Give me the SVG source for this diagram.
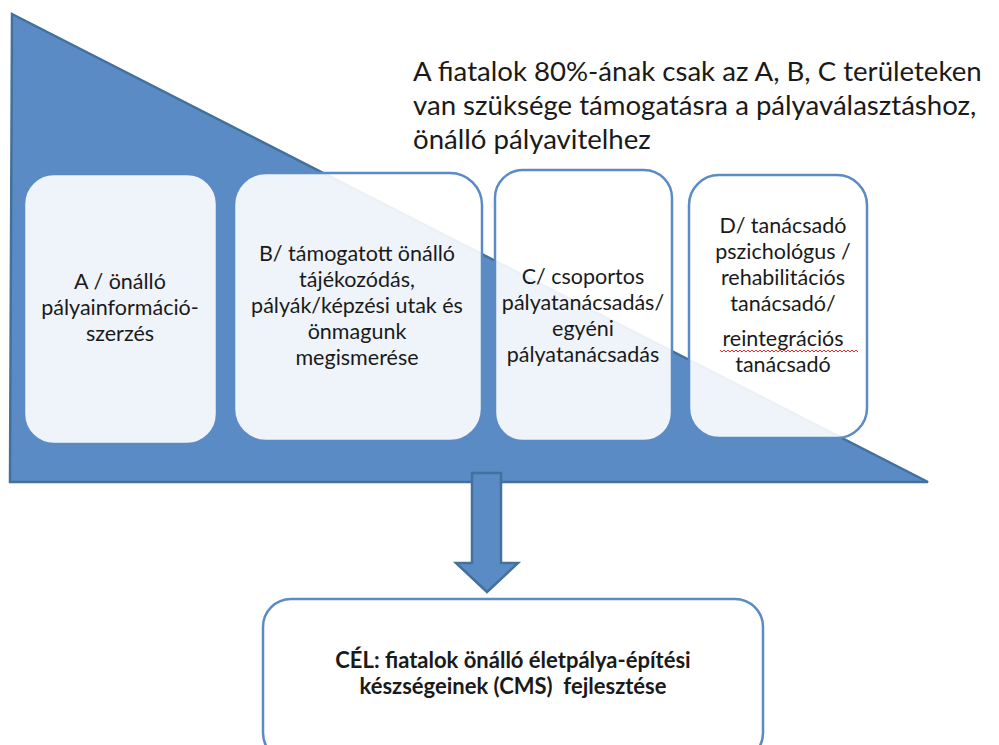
<svg xmlns="http://www.w3.org/2000/svg" width="999" height="745" viewBox="0 0 999 745">
  <style>
    .tri { fill: #5B8BC5; stroke: #41719C; stroke-width: 2.5; stroke-linejoin: miter; }
    .box { fill: #FFFFFF; fill-opacity: 0.9; stroke: #5B8BC5; stroke-width: 2.5; }
    .goal { fill: #FFFFFF; stroke: #5B8BC5; stroke-width: 2.5; }
    .lbl { font-family: "Lato", "Liberation Sans", sans-serif; font-size: 21.5px; fill: #1A1A1A; text-anchor: middle; }
    .note { font-family: "Lato", "Liberation Sans", sans-serif; font-size: 27.6px; fill: #1A1A1A; }
    .bold { font-family: "Lato", "Liberation Sans", sans-serif; font-size: 22px; font-weight: bold; fill: #1A1A1A; text-anchor: middle; white-space: pre; }
    .squiggle { fill: none; stroke: #E03030; stroke-width: 1; }
  </style>

  <rect width="999" height="745" fill="#FFFFFF"/>

  <!-- background wedge -->
  <polygon id="wedge" class="tri" points="12,14 928,482 10,482"/>

  <!-- explanatory note -->
  <g id="note">
    <text class="note" x="413" y="81">A fiatalok 80%-ának csak az A, B, C területeken</text>
    <text class="note" x="413" y="115">van szüksége támogatásra a pályaválasztáshoz,</text>
    <text class="note" x="413" y="149">önálló pályavitelhez</text>
  </g>

  <g id="nodeA">
    <rect class="box" x="24" y="174" width="193" height="270" rx="30"/>
    <text class="lbl" x="120" y="289">A / önálló</text>
    <text class="lbl" x="120" y="315">pályainformáció-</text>
    <text class="lbl" x="120" y="341">szerzés</text>
  </g>

  <g id="nodeB">
    <rect class="box" x="234" y="173" width="248" height="268" rx="32"/>
    <text class="lbl" x="357" y="261">B/ támogatott önálló</text>
    <text class="lbl" x="357" y="287">tájékozódás,</text>
    <text class="lbl" x="357" y="313">pályák/képzési utak és</text>
    <text class="lbl" x="357" y="339">önmagunk</text>
    <text class="lbl" x="357" y="365">megismerése</text>
  </g>

  <g id="nodeC">
    <rect class="box" x="495" y="170" width="177" height="271" rx="28"/>
    <text class="lbl" x="583" y="284">C/ csoportos</text>
    <text class="lbl" x="583" y="310">pályatanácsadás/</text>
    <text class="lbl" x="583" y="336">egyéni</text>
    <text class="lbl" x="583" y="362">pályatanácsadás</text>
  </g>

  <g id="nodeD">
    <rect class="box" x="689" y="175" width="178" height="263" rx="30"/>
    <text class="lbl" x="783" y="233">D/ tanácsadó</text>
    <text class="lbl" x="783" y="259">pszichológus /</text>
    <text class="lbl" x="783" y="285">rehabilitációs</text>
    <text class="lbl" x="783" y="311">tanácsadó/</text>
    <text class="lbl" x="783" y="346">reintegrációs</text>
    <path class="squiggle" d="M720,350 l2,2 l2,-2 l2,2 l2,-2 l2,2 l2,-2 l2,2 l2,-2 l2,2 l2,-2 l2,2 l2,-2 l2,2 l2,-2 l2,2 l2,-2 l2,2 l2,-2 l2,2 l2,-2 l2,2 l2,-2 l2,2 l2,-2 l2,2 l2,-2 l2,2 l2,-2 l2,2 l2,-2 l2,2 l2,-2 l2,2 l2,-2 l2,2 l2,-2 l2,2 l2,-2 l2,2 l2,-2 l2,2 l2,-2 l2,2 l2,-2 l2,2 l2,-2 l2,2 l2,-2 l2,2 l2,-2 l2,2 l2,-2 l2,2 l2,-2 l2,2 l2,-2 l2,2 l2,-2 l2,2 l2,-2 l2,2 l2,-2 l2,2 l2,-2 l2,2 l2,-2 l2,2 l2,-2 l2,2"/>
    <text class="lbl" x="783" y="372">tanácsadó</text>
  </g>

  <!-- downward block arrow -->
  <g id="connectors">
    <polygon class="tri" points="472,473 501,473 501,563 518,563 487,592 456,563 472,563"/>
  </g>

  <g id="goal">
    <rect class="goal" x="263" y="599" width="500" height="162" rx="28"/>
    <text class="bold" x="513" y="668">CÉL: fiatalok önálló életpálya-építési</text>
    <text class="bold" x="513" y="694" xml:space="preserve">készségeinek (CMS)  fejlesztése</text>
  </g>
</svg>
